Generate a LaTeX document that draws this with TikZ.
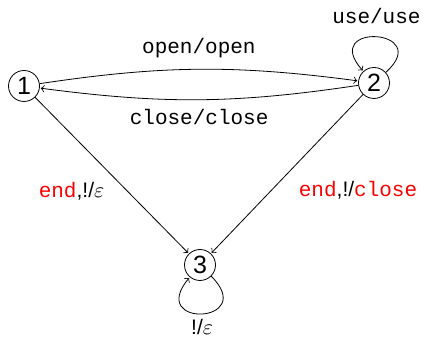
\documentclass[tikz,border=0pt]{standalone}
\usepackage{fontspec}
\setmainfont{Liberation Sans}
\setmonofont{Liberation Mono}
\usetikzlibrary{arrows,automata}
\usetikzlibrary{positioning}

\begin{document}
\begin{tikzpicture}[x=0.5pt,y=0.5pt,->,>=to,shorten >=0.5pt,auto,
					thin,font=\fontsize{10.5}{12}\selectfont]
					\tikzstyle{every state}=[draw,circle,minimum size=15.5pt,inner sep=0pt,
					font=\fontsize{12.5}{14}\selectfont]
					\useasboundingbox (0,0) rectangle (424,342);
					
					\node[state]       (q_1) at (24,256)       {1};
					\node[state]       (q_2) at (374,259)      {2};
					\node[state]       (q_3) at (200,77)       {3};
					
					\path (q_1) edge [bend left=8]  node[above=2pt] {\texttt{open/open}}    (q_2)
					(q_2) edge [bend left=8]  node[above=-16pt] {\texttt{close/close}}  (q_1)
					(q_2) edge [out=42,in=132,looseness=7.5] node[above=3pt] {\texttt{use/use}} (q_2)
					(q_1) edge  node[pos=0.6,left=8pt] {\texttt{\textcolor{red}{end}},!/$\varepsilon$} (q_3)
					(q_2) edge  node[pos=0.6,right=10pt] {\texttt{\textcolor{red}{end}},!/\texttt{\textcolor{red}{close}}} (q_3)
					(q_3) edge [out=-45,in=-130,looseness=8] node[below=-1pt] {!/$\varepsilon$} (q_3)
					;
\end{tikzpicture}
\end{document}
